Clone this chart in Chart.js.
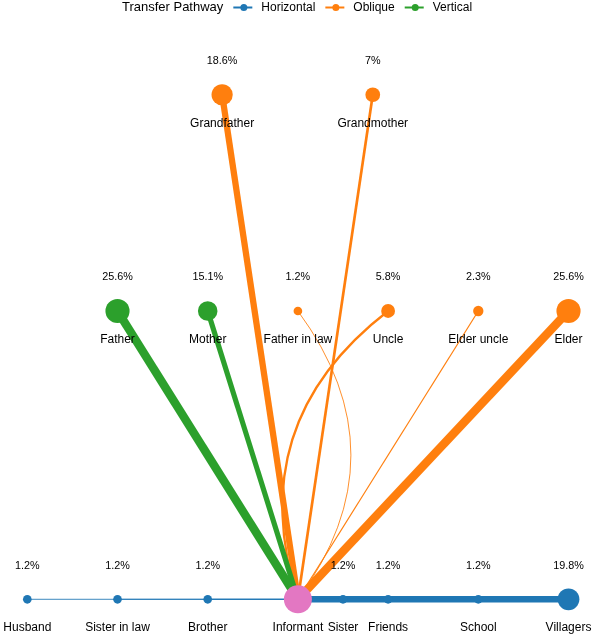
<!DOCTYPE html>
<html>
<head>
<meta charset="utf-8">
<script src="https://cdn.jsdelivr.net/npm/chart.js@4/dist/chart.umd.min.js"></script>
<style>
  html, body { margin: 0; padding: 0; background: #ffffff; }
  #wrap { width: 598px; height: 643px; position: relative; }
</style>
</head>
<body>
<div id="wrap"><canvas id="c"></canvas></div>
<script>
// ---- data ----
const centerName = 'Informant';
const centerX = 3;
const centerY = 0;

const nodeNames = ['Husband', 'Sister in law', 'Brother', 'Sister', 'Friends', 'School', 'Villagers',
                   'Father', 'Mother', 'Father in law', 'Uncle', 'Elder uncle', 'Elder',
                   'Grandfather', 'Grandmother'];
const nodeX = [0, 1, 2, 3.5, 4, 5, 6,
               1, 2, 3, 4, 5, 6,
               2.16, 3.83];
const nodeY = [0, 0, 0, 0, 0, 0, 0,
               1, 1, 1, 1, 1, 1,
               1.75, 1.75];
const nodePathway = ['Horizontal', 'Horizontal', 'Horizontal', 'Horizontal', 'Horizontal', 'Horizontal', 'Horizontal',
                     'Vertical', 'Vertical', 'Oblique', 'Oblique', 'Oblique', 'Oblique',
                     'Oblique', 'Oblique'];
const nodePercent = [1.2, 1.2, 1.2, 1.2, 1.2, 1.2, 19.8,
                     25.6, 15.1, 1.2, 5.8, 2.3, 25.6,
                     18.6, 7];
const legendPathways = ['Horizontal', 'Oblique', 'Vertical'];

// ---- styles ----
const pathColors = { Horizontal: '#1f77b4', Oblique: '#ff7f0e', Vertical: '#2ca02c' };
const centerColor = '#e377c2';
const centerRadius = 14;
const curvedEdges = { 'Father in law': 53, 'Uncle': -53 }; // bulge in px
const edgeWidth = p => 0.5 + 0.31 * p;
const nodeRadius = p => 2.2 + 1.95 * Math.sqrt(p);
const FONT = '"Liberation Sans", Arial, sans-serif';

// ---- datasets ----
const datasets = [];
datasets.push({
  label: centerName,
  data: [{ x: centerX, y: centerY }],
  pointRadius: centerRadius,
  pointHoverRadius: centerRadius,
  backgroundColor: centerColor,
  borderWidth: 0,
  order: 0
});
datasets.push({
  label: 'nodes',
  data: nodeNames.map((n, i) => ({ x: nodeX[i], y: nodeY[i] })),
  pointRadius: nodePercent.map(nodeRadius),
  pointHoverRadius: nodePercent.map(nodeRadius),
  backgroundColor: nodePathway.map(p => pathColors[p]),
  borderWidth: 0,
  order: 1
});
nodeNames.forEach((n, i) => {
  if (curvedEdges[n] !== undefined) return;
  datasets.push({
    label: 'edge ' + n,
    data: [{ x: centerX, y: centerY }, { x: nodeX[i], y: nodeY[i] }],
    showLine: true,
    pointRadius: 0,
    borderColor: pathColors[nodePathway[i]],
    borderWidth: edgeWidth(nodePercent[i]),
    order: 2
  });
});

const curvePlugin = {
  id: 'curves',
  beforeDatasetsDraw(chart) {
    const ctx = chart.ctx, xs = chart.scales.x, ys = chart.scales.y;
    const x0 = xs.getPixelForValue(centerX), y0 = ys.getPixelForValue(centerY);
    nodeNames.forEach((n, i) => {
      const off = curvedEdges[n];
      if (off === undefined) return;
      const x1 = xs.getPixelForValue(nodeX[i]), y1 = ys.getPixelForValue(nodeY[i]);
      const dx = x1 - x0, dy = y1 - y0, len = Math.hypot(dx, dy);
      const px = -dy / len, py = dx / len;
      const cx = (x0 + x1) / 2 + 2 * off * px, cy = (y0 + y1) / 2 + 2 * off * py;
      ctx.save();
      ctx.beginPath();
      ctx.moveTo(x0, y0);
      ctx.quadraticCurveTo(cx, cy, x1, y1);
      ctx.strokeStyle = pathColors[nodePathway[i]];
      ctx.lineWidth = edgeWidth(nodePercent[i]);
      ctx.stroke();
      ctx.restore();
    });
  }
};

const labelPlugin = {
  id: 'labels',
  afterDatasetsDraw(chart) {
    const ctx = chart.ctx, xs = chart.scales.x, ys = chart.scales.y;
    ctx.save();
    ctx.fillStyle = '#000000';
    ctx.textAlign = 'center';
    ctx.textBaseline = 'middle';
    const drawName = (name, x, y) => {
      ctx.font = '12px ' + FONT;
      ctx.fillText(name, x, y + 28.5);
    };
    nodeNames.forEach((n, i) => {
      const x = xs.getPixelForValue(nodeX[i]), y = ys.getPixelForValue(nodeY[i]);
      ctx.font = '10.8px ' + FONT;
      ctx.fillText(nodePercent[i] + '%', x, y - 33.5);
      drawName(n, x, y);
    });
    drawName(centerName, xs.getPixelForValue(centerX), ys.getPixelForValue(centerY));

    const title = 'Transfer Pathway';
    ctx.textAlign = 'left';
    ctx.font = '13px ' + FONT;
    const tW = ctx.measureText(title).width;
    ctx.font = '12px ' + FONT;
    const itemW = legendPathways.map(p => ctx.measureText(p).width);
    const symW = 19, gapA = 10, gapB = 9;
    let total = tW;
    itemW.forEach(w => { total += gapA + symW + gapB + w; });
    let x = 297 - total / 2;
    const ly = 7.5;
    ctx.font = '13px ' + FONT;
    ctx.fillText(title, x, ly);
    x += tW;
    legendPathways.forEach((p, k) => {
      x += gapA;
      ctx.strokeStyle = pathColors[p];
      ctx.fillStyle = pathColors[p];
      ctx.lineWidth = 2;
      ctx.beginPath();
      ctx.moveTo(x, ly);
      ctx.lineTo(x + symW, ly);
      ctx.stroke();
      ctx.beginPath();
      ctx.arc(x + symW / 2 + 1, ly, 3.5, 0, Math.PI * 2);
      ctx.fill();
      x += symW + gapB;
      ctx.fillStyle = '#000000';
      ctx.font = '12px ' + FONT;
      ctx.fillText(p, x, ly);
      x += itemW[k];
    });
    ctx.restore();
  }
};

new Chart(document.getElementById('c'), {
  type: 'scatter',
  data: { datasets },
  options: {
    responsive: true,
    maintainAspectRatio: false,
    animation: false,
    events: [],
    layout: { padding: 0, autoPadding: false },
    plugins: { legend: { display: false }, tooltip: { enabled: false } },
    scales: {
      x: { display: false, min: -0.3027, max: 6.327 },
      y: { display: false, min: -0.1516, max: 2.0787 }
    },
    elements: { line: { borderCapStyle: 'butt' } }
  },
  plugins: [curvePlugin, labelPlugin]
});
</script>
</body>
</html>
